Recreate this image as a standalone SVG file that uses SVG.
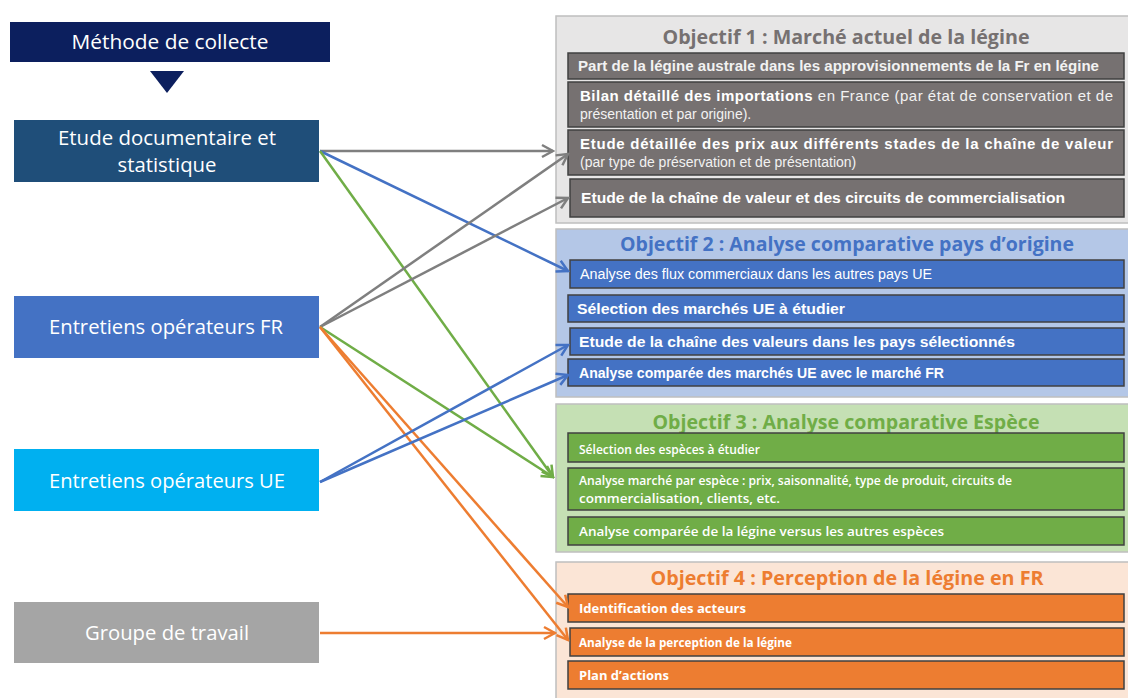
<svg xmlns="http://www.w3.org/2000/svg" width="1128" height="698" viewBox="0 0 1128 698">
<style>
.lt{font-family:"Open Sans","Noto Sans",sans-serif;font-size:20px;fill:#fff;text-anchor:middle}
.ttl{font-family:"Open Sans","Noto Sans",sans-serif;font-size:19px;font-weight:bold;text-anchor:middle}
.ar{font-family:"Liberation Sans",Arial,sans-serif;font-size:13px;fill:#F2F2F2}
.arb{font-family:"Liberation Sans",Arial,sans-serif;font-size:13.5px;font-weight:bold;fill:#fff}
.cal{font-family:"Open Sans","Noto Sans",sans-serif;font-size:12.5px;font-weight:600;fill:#fff}
.calb{font-family:"Open Sans","Noto Sans",sans-serif;font-size:12.5px;font-weight:bold;fill:#fff}
.ib{stroke:#404040;stroke-width:1.5}
.pn{stroke:#BFBFBF;stroke-width:1.5}
.cn{fill:none;stroke-width:2.5}
</style>
<defs>
<marker id="mg" viewBox="-13 -8 15 16" refX="0" refY="0" markerWidth="15" markerHeight="16" markerUnits="userSpaceOnUse" orient="auto"><path d="M-11,-6 L0,0 L-11,6" fill="none" stroke="#7F7F7F" stroke-width="2.5"/></marker>
<marker id="mb" viewBox="-13 -8 15 16" refX="0" refY="0" markerWidth="15" markerHeight="16" markerUnits="userSpaceOnUse" orient="auto"><path d="M-11,-6 L0,0 L-11,6" fill="none" stroke="#4472C4" stroke-width="2.5"/></marker>
<marker id="mgr" viewBox="-13 -8 15 16" refX="0" refY="0" markerWidth="15" markerHeight="16" markerUnits="userSpaceOnUse" orient="auto"><path d="M-11,-6 L0,0 L-11,6" fill="none" stroke="#70AD47" stroke-width="2.5"/></marker>
<marker id="mo" viewBox="-13 -8 15 16" refX="0" refY="0" markerWidth="15" markerHeight="16" markerUnits="userSpaceOnUse" orient="auto"><path d="M-11,-6 L0,0 L-11,6" fill="none" stroke="#ED7D31" stroke-width="2.5"/></marker>
</defs>
<rect width="1128" height="698" fill="#fff"/>

<g id="methode">
<rect x="10" y="22" width="320" height="40" fill="#0C1F5E"/>
<text class="lt" x="170" y="49" textLength="197" lengthAdjust="spacingAndGlyphs">Méthode de collecte</text>
<polygon points="150,71 184,71 167,93" fill="#0C1F5E"/>
</g>
<g id="etude-doc">
<rect x="14" y="120" width="305" height="62" fill="#1F4E79"/>
<text class="lt" x="167" y="145" textLength="218" lengthAdjust="spacingAndGlyphs">Etude documentaire et</text>
<text class="lt" x="167" y="172" textLength="99" lengthAdjust="spacingAndGlyphs">statistique</text>
</g>
<g id="entretiens-fr">
<rect x="14" y="296" width="305" height="62" fill="#4472C4"/>
<text class="lt" x="166" y="334" textLength="234" lengthAdjust="spacingAndGlyphs">Entretiens opérateurs FR</text>
</g>
<g id="entretiens-ue">
<rect x="14" y="449" width="305" height="62" fill="#00B0F0"/>
<text class="lt" x="167" y="488" textLength="236" lengthAdjust="spacingAndGlyphs">Entretiens opérateurs UE</text>
</g>
<g id="groupe">
<rect x="14" y="602" width="305" height="61" fill="#A5A5A5"/>
<text class="lt" x="167" y="640" textLength="164" lengthAdjust="spacingAndGlyphs">Groupe de travail</text>
</g>

<g id="objectif1">
<rect class="pn" x="556" y="16" width="574" height="207" fill="#E7E6E6"/>
<text class="ttl" x="846" y="44" fill="#767171" textLength="367" lengthAdjust="spacingAndGlyphs">Objectif 1 : Marché actuel de la légine</text>
<rect class="ib" x="568" y="53" width="556" height="26" fill="#767171"/>
<text class="arb" x="578" y="71" textLength="521" lengthAdjust="spacingAndGlyphs" style="fill:#F2F2F2;font-size:14.5px">Part de la légine australe dans les approvisionnements de la Fr en légine</text>
<rect class="ib" x="568" y="82" width="556" height="45" fill="#767171"/>
<text class="ar" x="580" y="101" style="font-size:15px" textLength="533" lengthAdjust="spacing"><tspan font-weight="bold" style="fill:#fff">Bilan détaillé des importations</tspan> en France (par état de conservation et de</text>
<text class="ar" x="580" y="119" style="font-size:14px">présentation et par origine).</text>
<rect class="ib" x="568" y="130" width="556" height="45" fill="#767171"/>
<text class="arb" x="580" y="148.5" style="font-size:15px" textLength="533" lengthAdjust="spacing">Etude détaillée des prix aux différents stades de la chaîne de valeur</text>
<text class="ar" x="580" y="166.5" style="font-size:14px">(par type de préservation et de présentation)</text>
<rect class="ib" x="570" y="179" width="554" height="38" fill="#767171"/>
<text class="arb" x="581" y="203" style="font-size:14.5px" textLength="484" lengthAdjust="spacingAndGlyphs">Etude de la chaîne de valeur et des circuits de commercialisation</text>
</g>

<g id="objectif2">
<rect class="pn" x="556" y="229" width="574" height="168" fill="#B4C7E7"/>
<text class="ttl" x="847" y="251" fill="#4472C4" textLength="454" lengthAdjust="spacingAndGlyphs">Objectif 2 : Analyse comparative pays d’origine</text>
<rect class="ib" x="570" y="260" width="554" height="28" fill="#4472C4"/>
<text class="ar" x="580" y="278.5" style="fill:#fff;font-size:14px" textLength="352" lengthAdjust="spacingAndGlyphs">Analyse des flux commerciaux dans les autres pays UE</text>
<rect class="ib" x="568" y="295" width="556" height="27" fill="#4472C4"/>
<text class="arb" x="577" y="313.5" style="font-size:15px" textLength="268" lengthAdjust="spacingAndGlyphs">Sélection des marchés UE à étudier</text>
<rect class="ib" x="570" y="328" width="554" height="27" fill="#4472C4"/>
<text class="arb" x="579" y="346.5" style="font-size:15px" textLength="436" lengthAdjust="spacingAndGlyphs">Etude de la chaîne des valeurs dans les pays sélectionnés</text>
<rect class="ib" x="568" y="359" width="556" height="27" fill="#4472C4"/>
<text class="arb" x="579" y="378" style="font-size:15px" textLength="365" lengthAdjust="spacingAndGlyphs">Analyse comparée des marchés UE avec le marché FR</text>
</g>

<g id="objectif3">
<rect class="pn" x="556" y="404" width="574" height="148" fill="#C5E0B4"/>
<text class="ttl" x="846" y="429" fill="#70AD47" textLength="387" lengthAdjust="spacingAndGlyphs">Objectif 3 : Analyse comparative Espèce</text>
<rect class="ib" x="568" y="433" width="556" height="29" fill="#70AD47"/>
<text class="cal" x="579" y="453.5" textLength="181" lengthAdjust="spacingAndGlyphs">Sélection des espèces à étudier</text>
<rect class="ib" x="568" y="468" width="556" height="42" fill="#70AD47"/>
<text class="cal" x="579" y="484.5" textLength="433" lengthAdjust="spacingAndGlyphs">Analyse marché par espèce : prix, saisonnalité, type de produit, circuits de</text>
<text class="cal" x="579" y="502.5" textLength="201" lengthAdjust="spacingAndGlyphs">commercialisation, clients, etc.</text>
<rect class="ib" x="568" y="517" width="556" height="28" fill="#70AD47"/>
<text class="cal" x="579" y="535.5" textLength="365" lengthAdjust="spacingAndGlyphs">Analyse comparée de la légine versus les autres espèces</text>
</g>

<g id="objectif4">
<rect class="pn" x="556" y="562" width="574" height="140" fill="#FBE5D6"/>
<text class="ttl" x="847" y="585" fill="#ED7D31" textLength="393" lengthAdjust="spacingAndGlyphs">Objectif 4 : Perception de la légine en FR</text>
<rect class="ib" x="568" y="594" width="556" height="28" fill="#ED7D31"/>
<text class="calb" x="579" y="612.5" textLength="167" lengthAdjust="spacingAndGlyphs">Identification des acteurs</text>
<rect class="ib" x="570" y="628" width="554" height="28" fill="#ED7D31"/>
<text class="calb" x="579" y="646.5" textLength="213" lengthAdjust="spacingAndGlyphs">Analyse de la perception de la légine</text>
<rect class="ib" x="568" y="661" width="556" height="28" fill="#ED7D31"/>
<text class="calb" x="579" y="679.5" textLength="90" lengthAdjust="spacingAndGlyphs">Plan d’actions</text>
</g>

<g id="connectors">
<line class="cn" x1="320" y1="151" x2="553" y2="151" stroke="#7F7F7F" marker-end="url(#mg)"/>
<line class="cn" x1="320" y1="151" x2="568" y2="271" stroke="#4472C4" marker-end="url(#mb)"/>
<line class="cn" x1="320" y1="151" x2="553" y2="477" stroke="#70AD47" marker-end="url(#mgr)"/>
<line class="cn" x1="320" y1="327" x2="568" y2="154" stroke="#7F7F7F" marker-end="url(#mg)"/>
<line class="cn" x1="320" y1="327" x2="568" y2="198" stroke="#7F7F7F" marker-end="url(#mg)"/>
<line class="cn" x1="320" y1="327" x2="553" y2="477" stroke="#70AD47" marker-end="url(#mgr)"/>
<line class="cn" x1="320" y1="327" x2="568" y2="607" stroke="#ED7D31" marker-end="url(#mo)"/>
<line class="cn" x1="320" y1="327" x2="568" y2="640" stroke="#ED7D31" marker-end="url(#mo)"/>
<line class="cn" x1="320" y1="482" x2="568" y2="345" stroke="#4472C4" marker-end="url(#mb)"/>
<line class="cn" x1="320" y1="482" x2="568" y2="375" stroke="#4472C4" marker-end="url(#mb)"/>
<line class="cn" x1="320" y1="633" x2="555" y2="633" stroke="#ED7D31" marker-end="url(#mo)"/>
</g>
</svg>
